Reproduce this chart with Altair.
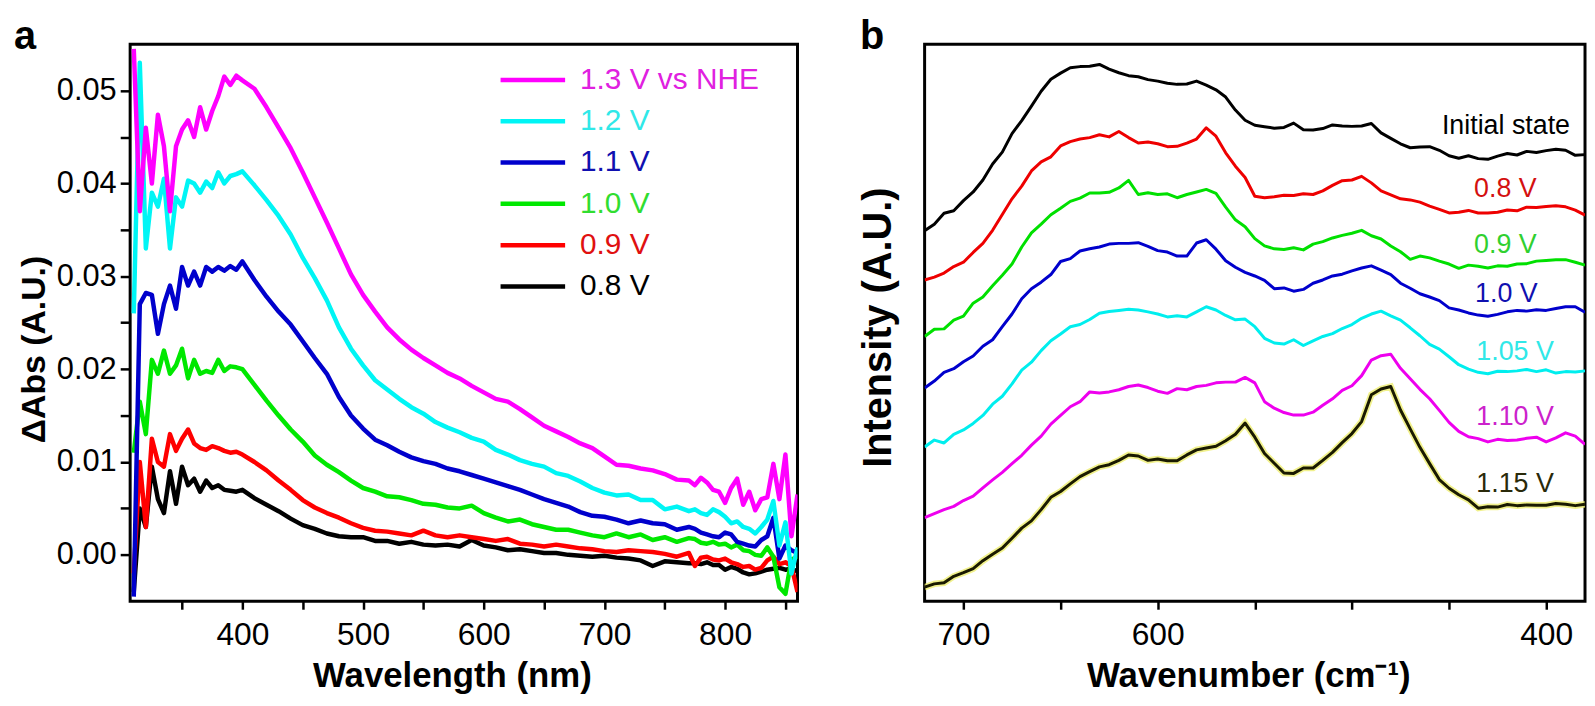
import altair as alt
import pandas as pd

FONT = "Liberation Sans"

# ---------------- Panel a: UV-vis difference spectra ----------------
wavelength = [310, 315, 320, 325, 330, 335, 340, 345, 350, 355, 360, 365, 370, 375, 380, 385, 390, 395, 400,
              410, 420, 430, 440, 450, 460, 470, 480, 490, 500, 510, 520, 530, 540, 550, 560, 570, 580, 590,
              600, 610, 620, 630, 640, 650, 660, 670, 680, 690, 700, 710, 720, 730, 740, 750, 760, 770,
              775, 780, 785, 790, 795, 800, 805, 810, 815, 820, 825, 830, 835, 840, 845, 850, 855, 860]

dabs_1p3 = [0.0545, 0.0370, 0.0460, 0.0400, 0.0474, 0.0440, 0.0370, 0.0440, 0.0458, 0.0468, 0.0450, 0.0482,
            0.0458, 0.0478, 0.0494, 0.0515, 0.0506, 0.0516, 0.0511,
            0.0502, 0.0482, 0.0460, 0.0438, 0.0412, 0.0385, 0.0358, 0.0330, 0.0302, 0.0280, 0.0262, 0.0245,
            0.0232, 0.0221, 0.0212, 0.0204, 0.0196, 0.0190, 0.0182, 0.0175, 0.0168, 0.0165, 0.0157, 0.0148,
            0.0139, 0.0133, 0.0127, 0.0120, 0.0115, 0.0106, 0.0097, 0.0096, 0.0093, 0.0091, 0.0087, 0.0081,
            0.0080,
            0.0075, 0.0083, 0.0078, 0.0070, 0.0068, 0.0056, 0.0072, 0.0082, 0.0054, 0.0068, 0.0048, 0.0060,
            0.0062, 0.0098, 0.0060, 0.0108, 0.0020, 0.0065]
dabs_1p2 = [0.0260, 0.0530, 0.0330, 0.0390, 0.0375, 0.0405, 0.0330, 0.0385, 0.0375, 0.0403, 0.0400, 0.0390,
            0.0402, 0.0395, 0.0412, 0.0400, 0.0408, 0.0410, 0.0413,
            0.0398, 0.0382, 0.0365, 0.0345, 0.0320, 0.0298, 0.0274, 0.0245, 0.0222, 0.0204, 0.0188, 0.0178,
            0.0168, 0.0159, 0.0152, 0.0143, 0.0137, 0.0132, 0.0126, 0.0122, 0.0113, 0.0108, 0.0102, 0.0098,
            0.0095, 0.0088, 0.0085, 0.0079, 0.0072, 0.0067, 0.0064, 0.0065, 0.0059, 0.0059, 0.0049, 0.0052,
            0.0047,
            0.0049, 0.0045, 0.0043, 0.0049, 0.0046, 0.0041, 0.0034, 0.0036, 0.0030, 0.0028, 0.0023, 0.0030,
            0.0038, 0.0058, 0.0010, 0.0035, -0.0020, 0.0008]
dabs_1p1 = [-0.0045, 0.0270, 0.0282, 0.0280, 0.0238, 0.0270, 0.0290, 0.0265, 0.0310, 0.0290, 0.0305, 0.0290,
            0.0310, 0.0305, 0.0310, 0.0306, 0.0311, 0.0307, 0.0316,
            0.0296, 0.0278, 0.0262, 0.0248, 0.0230, 0.0212, 0.0195, 0.0170, 0.0150, 0.0136, 0.0124, 0.0118,
            0.0111, 0.0105, 0.0101, 0.0098, 0.0093, 0.0090, 0.0086, 0.0082, 0.0078, 0.0074, 0.0070, 0.0065,
            0.0060, 0.0056, 0.0052, 0.0046, 0.0042, 0.0041, 0.0038, 0.0034, 0.0037, 0.0034, 0.0033, 0.0027,
            0.0030,
            0.0028, 0.0024, 0.0022, 0.0020, 0.0019, 0.0024, 0.0022, 0.0014, 0.0012, 0.0010, 0.0009, 0.0016,
            0.0020, 0.0040, -0.0004, 0.0010, 0.0005, 0.0002]
dabs_1p0 = [0.0110, 0.0165, 0.0130, 0.0210, 0.0195, 0.0220, 0.0195, 0.0204, 0.0222, 0.0190, 0.0210, 0.0195,
            0.0198, 0.0196, 0.0210, 0.0198, 0.0203, 0.0202, 0.0200,
            0.0183, 0.0166, 0.0150, 0.0135, 0.0122, 0.0107, 0.0097, 0.0089, 0.0080, 0.0072, 0.0068, 0.0063,
            0.0062, 0.0059, 0.0055, 0.0054, 0.0051, 0.0050, 0.0053, 0.0045, 0.0040, 0.0036, 0.0038, 0.0033,
            0.0030, 0.0027, 0.0027, 0.0024, 0.0021, 0.0019, 0.0023, 0.0019, 0.0022, 0.0016, 0.0019, 0.0014,
            0.0018,
            0.0017, 0.0013, 0.0012, 0.0014, 0.0011, 0.0012, 0.0008, 0.0011, 0.0005, 0.0004, 0.0000, -0.0001,
            0.0008, -0.0002, -0.0035, -0.0042, -0.0005, -0.0002]
dabs_0p9 = [-0.0020, 0.0100, 0.0030, 0.0125, 0.0100, 0.0095, 0.0130, 0.0112, 0.0125, 0.0135, 0.0120, 0.0115,
            0.0113, 0.0117, 0.0115, 0.0112, 0.0110, 0.0111, 0.0108,
            0.0100, 0.0091, 0.0080, 0.0070, 0.0059, 0.0051, 0.0045, 0.0040, 0.0034, 0.0029, 0.0026, 0.0025,
            0.0023, 0.0021, 0.0026, 0.0021, 0.0019, 0.0021, 0.0019, 0.0017, 0.0015, 0.0017, 0.0012, 0.0011,
            0.0009, 0.0011, 0.0009, 0.0007, 0.0006, 0.0004, 0.0003, 0.0005, 0.0004, 0.0003, 0.0001, -0.0002,
            0.0002,
            -0.0012, -0.0003, -0.0002, -0.0005, -0.0006, -0.0004, -0.0008, -0.0010, -0.0013, -0.0012, -0.0016,
            -0.0014, -0.0006, -0.0002, -0.0010, -0.0008, -0.0012, -0.0040]
dabs_0p8 = [-0.0040, 0.0050, 0.0030, 0.0095, 0.0060, 0.0045, 0.0090, 0.0055, 0.0095, 0.0075, 0.0082, 0.0068,
            0.0080, 0.0072, 0.0075, 0.0070, 0.0069, 0.0068, 0.0070,
            0.0061, 0.0054, 0.0047, 0.0039, 0.0032, 0.0028, 0.0023, 0.0020, 0.0019, 0.0019, 0.0015, 0.0015,
            0.0012, 0.0014, 0.0011, 0.0010, 0.0011, 0.0009, 0.0016, 0.0010, 0.0008, 0.0005, 0.0006, 0.0004,
            0.0002, 0.0002, 0.0000, -0.0001, -0.0002, -0.0001, -0.0003, -0.0004, -0.0006, -0.0012, -0.0007,
            -0.0008, -0.0009,
            -0.0009, -0.0010, -0.0008, -0.0011, -0.0011, -0.0016, -0.0013, -0.0015, -0.0019, -0.0021, -0.0020,
            -0.0018, -0.0016, -0.0015, -0.0014, -0.0016, -0.0015, -0.0018]

series_a = ["1.3 V vs NHE", "1.2 V", "1.1 V", "1.0 V", "0.9 V", "0.8 V"]
values_a = [dabs_1p3, dabs_1p2, dabs_1p1, dabs_1p0, dabs_0p9, dabs_0p8]
line_colors_a = ["#ff00ff", "#00f5f5", "#0000cc", "#00e800", "#ff0000", "#000000"]
text_colors_a = ["#e020e0", "#30e8e8", "#1010b0", "#30dd30", "#e01010", "#000000"]

x_ticks_a = [350, 400, 450, 500, 550, 600, 650, 700, 750, 800, 850]
y_ticks_a = [0.0, 0.005, 0.01, 0.015, 0.02, 0.025, 0.03, 0.035, 0.04, 0.045, 0.05]

# ---------------- Panel b: Raman spectra ----------------
wavenumber = [720, 715, 710, 705, 700, 695, 690, 685, 680, 675, 670, 665, 660, 655, 650, 645, 640, 635,
              630, 625, 620, 615, 610, 605, 600, 595, 590, 585, 580, 575, 570, 565, 560, 555, 550, 545,
              540, 535, 530, 525, 520, 515, 510, 505, 500, 495, 490, 485, 480, 475, 470, 465, 460, 455,
              450, 445, 440, 435, 430, 425, 420, 415, 410, 405, 400, 395, 390, 385, 380]

int_initial = [102.3, 104.1, 107.1, 107.8, 110.6, 113.0, 116.3, 120.7, 124.0, 129.1, 132.7, 136.7, 140.8,
               144.1, 145.8, 147.3, 147.6, 147.7, 148.2, 146.9, 145.9, 145.1, 144.8, 144.0,
               143.6, 143.0, 142.7, 142.8, 143.6, 142.5, 141.2, 139.2, 135.6, 132.8, 131.4, 131.0, 130.6,
               130.8, 132.0, 130.2, 130.1, 130.5, 131.5, 131.2, 131.1, 131.2,
               131.9, 129.3, 127.8, 126.3, 125.2, 125.4, 125.5, 124.5, 123.0, 122.3, 123.0, 122.2, 122.0,
               122.9, 123.6, 123.2, 124.2, 123.9, 124.4, 124.8, 124.5, 123.1, 123.3]
int_0p8 = [88.7, 89.5, 90.6, 92.4, 93.6, 96.3, 98.8, 102.4, 106.8, 111.1, 114.6, 118.8, 121.3, 122.7, 125.7,
           126.9, 127.6, 128.0, 128.8, 128.2, 129.7, 128.0, 126.5, 126.8,
           126.3, 125.5, 125.6, 126.5, 127.6, 130.7, 128.4, 123.8, 120.1, 117.0, 111.8, 111.4, 111.7, 112.1,
           112.0, 112.5, 112.3, 113.3, 114.8, 116.1, 116.3, 117.3,
           115.5, 113.3, 112.2, 111.1, 110.8, 110.2, 109.1, 108.2, 107.2, 107.4, 107.9, 107.2, 107.2, 107.4,
           108.0, 107.8, 108.8, 108.7, 109.0, 109.2, 108.9, 108.0, 106.6]
int_0p9 = [73.1, 75.1, 75.2, 77.6, 78.7, 82.3, 84.0, 87.1, 90.0, 93.1, 97.8, 101.7, 104.1, 106.7, 108.5,
           110.4, 111.3, 112.7, 112.7, 112.9, 114.1, 116.2, 112.3, 112.8,
           112.3, 112.5, 111.4, 112.3, 113.0, 113.7, 112.6, 108.8, 105.3, 103.4, 100.1, 98.1, 97.3, 97.1,
           97.6, 97.0, 98.6, 99.3, 100.3, 101.0, 101.6, 102.4,
           100.9, 100.0, 98.1, 96.5, 94.4, 95.3, 94.8, 93.9, 93.1, 91.9, 92.8, 92.5, 92.0, 92.6, 92.5, 93.1,
           93.2, 93.9, 94.1, 94.3, 94.3, 93.6, 92.8]
int_1p0 = [58.9, 60.8, 63.2, 64.2, 66.1, 67.7, 70.4, 72.2, 75.8, 79.3, 83.5, 86.3, 88.1, 90.2, 93.8, 94.6,
           96.7, 97.3, 97.8, 98.6, 98.8, 98.8, 99.0, 98.0,
           96.8, 96.4, 95.3, 95.3, 98.9, 99.8, 97.2, 94.0, 92.2, 90.8, 89.8, 88.6, 86.3, 86.5, 85.6, 86.1,
           87.8, 88.7, 89.8, 90.3, 91.2, 92.0,
           92.6, 91.4, 90.2, 87.8, 86.4, 84.9, 84.0, 83.0, 81.0, 80.4, 79.6, 79.0, 78.7, 79.2, 79.9, 80.3,
           80.1, 80.5, 80.3, 80.8, 81.3, 81.3, 79.8]
int_1p05 = [42.6, 44.5, 43.7, 46.1, 47.3, 49.1, 51.3, 54.4, 56.6, 60.0, 63.8, 66.0, 69.2, 71.9, 73.8, 75.8,
            76.4, 77.8, 79.5, 80.0, 80.3, 80.6, 80.4, 79.9,
            79.3, 78.5, 78.8, 78.5, 79.9, 81.3, 80.4, 78.9, 77.7, 77.9, 75.8, 72.6, 71.3, 71.0, 72.2, 70.6,
            71.9, 73.1, 73.9, 75.3, 76.4, 78.1,
            79.3, 80.1, 78.8, 77.6, 75.5, 73.3, 70.9, 69.6, 67.5, 65.3, 64.1, 63.2, 62.8, 63.5, 63.4, 63.6,
            64.0, 63.4, 63.9, 63.0, 63.4, 63.3, 63.6]
int_1p10 = [23.1, 24.2, 25.3, 26.2, 27.8, 29.0, 31.3, 33.5, 35.6, 38.0, 40.3, 43.1, 45.6, 48.9, 51.3, 53.7,
            55.1, 57.8, 57.5, 57.8, 58.4, 59.3, 59.7, 59.0,
            58.0, 57.4, 58.7, 58.4, 59.3, 59.6, 60.3, 60.5, 60.5, 61.8, 60.3, 55.1, 53.3, 52.1, 51.4, 51.4,
            52.2, 54.1, 55.9, 58.2, 59.5, 62.3,
            66.6, 67.8, 68.2, 64.3, 61.4, 58.5, 55.9, 52.7, 49.4, 46.9, 45.4, 44.9, 44.0, 44.7, 44.4, 44.5,
            45.0, 45.3, 44.0, 45.1, 46.5, 45.6, 43.3]
int_1p15 = [3.9, 4.8, 5.1, 6.9, 7.9, 9.0, 11.2, 13.0, 14.7, 17.4, 20.2, 22.2, 25.3, 28.7, 30.3, 32.4, 34.4,
            35.8, 37.1, 37.7, 38.9, 40.4, 40.1, 38.9,
            39.3, 38.8, 38.8, 40.4, 41.8, 42.3, 42.8, 44.3, 46.1, 49.2, 45.3, 40.8, 38.1, 35.4, 35.3, 36.8,
            36.8, 38.9, 41.1, 43.8, 46.3, 49.6,
            57.0, 58.6, 59.3, 52.8, 47.6, 42.5, 38.0, 33.6, 31.2, 29.4, 28.0, 25.7, 26.1, 26.0, 26.7, 26.4,
            26.6, 26.5, 26.5, 27.0, 26.8, 26.4, 26.8]

series_b = ["Initial state", "0.8 V", "0.9 V", "1.0 V", "1.05 V", "1.10 V", "1.15 V"]
values_b = [int_initial, int_0p8, int_0p9, int_1p0, int_1p05, int_1p10, int_1p15]
line_colors_b = ["#000000", "#ee0000", "#00e000", "#0000cc", "#00eeee", "#ee00ee", "#1a1a00"]
text_colors_b = ["#000000", "#d41010", "#30d030", "#1010b0", "#30e8e8", "#cc22cc", "#2a2a0a"]
label_wn_b = [420.7, 421.0, 421.0, 420.5, 416.0, 416.0, 416.0]
label_int_b = [131.3, 113.8, 98.3, 84.8, 68.8, 50.8, 32.3]

x_ticks_b = [700, 650, 600, 550, 500, 450, 400]
x_labelled_b = [700, 600, 400]

# ---------------- build panel a ----------------
W_A, W_B, H = 672, 665, 561

x_a = alt.X("wl:Q", scale=alt.Scale(domain=[307, 860], nice=False, zero=False),
            axis=alt.Axis(title="Wavelength (nm)", values=x_ticks_a,
                          labelExpr="datum.value % 100 == 0 ? datum.label : ''",
                          titleX=324))
y_a = alt.Y("dabs:Q", scale=alt.Scale(domain=[-0.005, 0.055], nice=False, zero=False),
            axis=alt.Axis(title="ΔAbs (A.U.)", values=y_ticks_a,
                          labelExpr="round(datum.value*1000) % 10 == 0 ? format(datum.value, '.2f') : ''",
                          tickSize=10, labelPadding=4, labelFontSize=31,
                          titleFontSize=34, titlePadding=5, titleY=307))

line_layers_a = []
for name, vals, col in reversed(list(zip(series_a, values_a, line_colors_a))):
    df = pd.DataFrame({"wl": wavelength, "dabs": vals, "series": name})
    line_layers_a.append(
        alt.Chart(df).mark_line(color=col, strokeWidth=4.5, clip=True, strokeJoin="round")
        .encode(x=x_a, y=y_a)
    )
data_a = alt.layer(*line_layers_a)

legend_df = pd.DataFrame({"label": series_a, "line_color": line_colors_a,
                          "text_color": text_colors_a, "rank": list(range(len(series_a)))})
leg_y = alt.Y("rank:Q", scale=alt.Scale(domain=[0, 5], range=[36, 244]), axis=None)
legend_rules = alt.Chart(legend_df).mark_rule(strokeWidth=4.5).encode(
    x=alt.value(373), x2=alt.value(438), y=leg_y,
    color=alt.Color("line_color:N", scale=None))
legend_text = alt.Chart(legend_df).mark_text(align="left", baseline="middle", fontSize=30, font=FONT).encode(
    x=alt.value(453), y=leg_y, text="label:N",
    color=alt.Color("text_color:N", scale=None))
legend_a = alt.layer(legend_rules, legend_text)

tag_a = alt.Chart(pd.DataFrame({"t": ["a"]})).mark_text(
    align="left", baseline="alphabetic", fontSize=40, fontWeight="bold", font=FONT, color="black"
).encode(text="t:N", x=alt.value(-117), y=alt.value(5))

panel_a = alt.layer(data_a, legend_a, tag_a).resolve_scale(y="independent").properties(width=W_A, height=H)

# ---------------- build panel b ----------------
x_b = alt.X("wn:Q", scale=alt.Scale(domain=[380, 720], reverse=True, nice=False, zero=False),
            axis=alt.Axis(title="Wavenumber (cm⁻¹)", values=x_ticks_b,
                          labelExpr="indexof(" + str(x_labelled_b) + ", datum.value) >= 0 ? datum.label : ''",
                          titleX=326))
y_b = alt.Y("inten:Q", scale=alt.Scale(domain=[0, 153.8], nice=False, zero=False),
            axis=alt.Axis(title="Intensity (A.U.)", ticks=False, labels=False,
                          titleFontSize=40, titlePadding=26, titleY=285))

layers_b = []
for name, vals, col in zip(series_b, values_b, line_colors_b):
    df = pd.DataFrame({"wn": wavenumber, "inten": vals, "series": name})
    if name == "1.15 V":
        layers_b.append(alt.Chart(df).mark_line(color="#eeee70", strokeWidth=6.5, opacity=0.8, clip=True)
                        .encode(x=x_b, y=y_b))
    layers_b.append(alt.Chart(df).mark_line(color=col, strokeWidth=3, clip=True, strokeJoin="round")
                    .encode(x=x_b, y=y_b))

labels_b_df = pd.DataFrame({"wn": label_wn_b, "inten": label_int_b, "label": series_b, "color": text_colors_b})
labels_b = alt.Chart(labels_b_df).mark_text(align="center", baseline="middle", fontSize=27, font=FONT).encode(
    x=x_b, y=y_b, text="label:N", color=alt.Color("color:N", scale=None))

tag_b = alt.Chart(pd.DataFrame({"t": ["b"]})).mark_text(
    align="left", baseline="alphabetic", fontSize=40, fontWeight="bold", font=FONT, color="black"
).encode(text="t:N", x=alt.value(-65), y=alt.value(5))

panel_b = alt.layer(*layers_b, labels_b, tag_b).properties(width=W_B, height=H)

chart = (
    alt.hconcat(panel_a, panel_b, spacing=58)
    .properties(padding={"left": 4, "top": 5, "right": 0, "bottom": 0})
    .configure(font=FONT)
    .configure_view(stroke="black", strokeWidth=3)
    .configure_axis(
        domain=False, grid=False, tickColor="black", tickWidth=2.5, tickSize=8,
        labelFont=FONT, labelFontSize=32, labelColor="black", labelPadding=11,
        labelOverlap=False, labelFlush=False,
        titleFont=FONT, titleFontSize=35, titleFontWeight="bold", titleColor="black",
        titlePadding=8,
    )
)

chart.save("out.html", embed_options={"renderer": "svg", "actions": False})
